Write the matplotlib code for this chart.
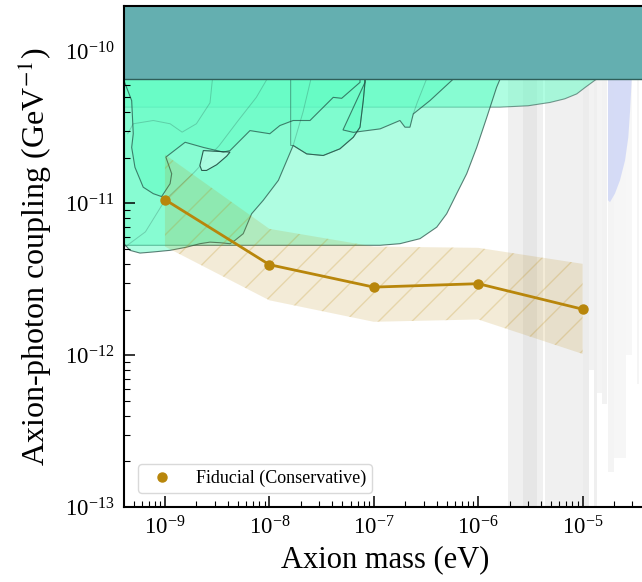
import numpy as np
import matplotlib
matplotlib.use("Agg")
import matplotlib.pyplot as plt
from matplotlib.ticker import LogLocator, NullFormatter
from matplotlib.lines import Line2D

plt.rcParams['font.family'] = 'serif'
plt.rcParams['font.serif'] = ['Liberation Serif', 'DejaVu Serif']
plt.rcParams['mathtext.fontset'] = 'stix'

# fiducial projection (eV, GeV^-1)
mass = [1e-9, 1e-8, 1e-7, 1e-6, 1e-5]
g_fid = [1.06e-11, 3.95e-12, 2.81e-12, 2.96e-12, 2.01e-12]
g_hi = [2.1e-11, 6.8e-12, 5.2e-12, 5.1e-12, 4.0e-12]
g_lo = [5.2e-12, 2.3e-12, 1.66e-12, 1.72e-12, 1.02e-12]

# helioscope limit
cast_g = 6.6e-11

# astrophysical bounds
regA_m = [4.05e-10, 4.05e-10, 1.15e-7, 1.78e-7, 2.77e-7, 4.01e-7, 4.99e-7, 6.22e-7,
          7.76e-7, 9.68e-7, 1.21e-6, 1.50e-6, 1.62e-6, 1.62e-6]
regA_g = [1e-10, 5.30e-12, 5.30e-12, 5.43e-12, 5.86e-12, 6.98e-12, 8.55e-12, 1.16e-11,
          1.57e-11, 2.34e-11, 3.70e-11, 5.82e-11, 6.6e-11, 1e-10]

regB_m = [4.05e-10, 4.05e-10, 1.62e-6, 3.0e-6, 4.88e-6, 6.74e-6, 8.79e-6, 1.06e-5, 1.36e-5, 1.36e-5]
regB_g = [1e-10, 4.31e-11, 4.31e-11, 4.4e-11, 4.63e-11, 4.89e-11, 5.27e-11, 5.82e-11, 6.6e-11, 1e-10]

regC1_m = [4.05e-10, 4.05e-10, 4.62e-10, 5.77e-10, 7.73e-10, 1.12e-9, 1.61e-9, 2.16e-9, 2.70e-9,
           3.37e-9, 4.20e-9, 4.68e-9, 5.62e-9, 6.76e-9, 8.75e-9, 1.22e-8, 1.46e-8, 1.69e-8,
           2.28e-8, 3.28e-8, 4.74e-8, 6.37e-8, 7.38e-8, 7.93e-8, 8.24e-8, 8.24e-8]
regC1_g = [1e-10, 5.43e-12, 4.91e-12, 4.71e-12, 4.79e-12, 4.91e-12, 5.15e-12, 5.43e-12, 5.56e-12,
           5.51e-12, 5.43e-12, 5.71e-12, 6.32e-12, 8.55e-12, 1.05e-11, 1.42e-11, 1.9e-11, 2.41e-11,
           2.12e-11, 2.07e-11, 2.29e-11, 2.73e-11, 3.18e-11, 4.76e-11, 6.28e-11, 1e-10]

regC2_m = [4.05e-10, 4.05e-10, 4.80e-10, 4.97e-10, 4.80e-10, 5.16e-10, 6.19e-10, 7.73e-10, 9.29e-10,
           1.12e-9, 1.16e-9, 1.02e-9, 1.56e-9, 2.33e-9, 3.61e-9, 4.20e-9, 6.52e-9, 1.01e-8,
           1.26e-8, 1.69e-8, 2.45e-8, 4.09e-8, 4.93e-8, 7.38e-8, 7.38e-8]
regC2_g = [1e-10, 6.44e-11, 4.76e-11, 2.88e-11, 2.34e-11, 1.73e-11, 1.28e-11, 1.16e-11, 1.11e-11,
           1.35e-11, 1.57e-11, 2.02e-11, 2.53e-11, 2.34e-11, 2.18e-11, 2.23e-11, 3.02e-11, 2.88e-11,
           3.26e-11, 3.52e-11, 3.52e-11, 5.00e-11, 4.93e-11, 6.28e-11, 1e-10]

regD_m = [5.07e-8, 6.37e-8, 1.15e-7, 1.78e-7, 1.99e-7, 2.22e-7, 2.39e-7, 3.45e-7, 5.77e-7,
          5.77e-7, 8.24e-8, 8.24e-8]
regD_g = [3.05e-11, 2.94e-11, 3.10e-11, 3.52e-11, 3.18e-11, 3.18e-11, 3.89e-11, 4.76e-11, 6.6e-11,
          1e-10, 1e-10, 6.28e-11]

regE_m = [1.60e-8, 1.60e-8, 1.69e-8, 2.28e-8, 3.28e-8, 4.74e-8, 6.37e-8, 7.38e-8, 7.93e-8, 8.24e-8, 8.24e-8]
regE_g = [1e-10, 2.41e-11, 2.41e-11, 2.12e-11, 2.07e-11, 2.29e-11, 2.73e-11, 3.18e-11, 4.76e-11, 6.28e-11, 1e-10]

hole_m = [2.33e-9, 2.16e-9, 2.25e-9, 2.5e-9, 3.13e-9, 3.9e-9, 4.2e-9]
hole_g = [2.23e-11, 1.78e-11, 1.65e-11, 1.65e-11, 1.8e-11, 2.05e-11, 2.18e-11]

faint1_m = [4.4e-10, 4.97e-10, 7.73e-10, 1.12e-9, 1.46e-9, 2.0e-9, 2.7e-9, 2.85e-9]
faint1_g = [2.88e-11, 3.35e-11, 3.52e-11, 3.35e-11, 2.95e-11, 3.35e-11, 4.6e-11, 6.6e-11]
faint2_m = [4.2e-10, 6.5e-10, 1.0e-9, 1.9e-9, 3.3e-9, 5.0e-9, 7.5e-9, 9.5e-9]
faint2_g = [5.2e-12, 6.5e-12, 1.05e-11, 1.6e-11, 2.4e-11, 3.5e-11, 5.0e-11, 6.6e-11]
faint3_m = [1.69e-8, 2.1e-8, 2.5e-8]
faint3_g = [2.41e-11, 4.0e-11, 6.6e-11]
faint4_m = [3.2e-7, 2.6e-7, 2.39e-7]
faint4_g = [6.6e-11, 4.6e-11, 3.89e-11]

# haloscopes
halo_m_lo = [1.94e-6, 4.36e-6, 2.67e-6, 1.01e-5, 1.15e-5, 1.29e-5, 1.36e-5, 1.52e-5, 1.75e-5,
             2.0e-5, 2.6e-5, 3.3e-5]
halo_m_hi = [4.15e-6, 1.01e-5, 3.63e-6, 1.15e-5, 1.29e-5, 1.36e-5, 1.52e-5, 1.70e-5, 2.0e-5,
             2.6e-5, 3.0e-5, 3.5e-5]
halo_g_lo = [1e-13, 1e-13, 1e-13, 1e-13, 8e-13, 1e-13, 5.6e-13, 4.8e-13, 1.7e-13,
             2.1e-13, 1e-12, 6.5e-13]
halo_shade = ['#f0f0f0', '#f0f0f0', '#e6e6e6', '#ececec', '#f2f2f2', '#efefef', '#f4f4f4',
              '#f2f2f2', '#f4f4f4', '#f6f6f6', '#f7f7f7', '#f5f5f5']

blue_m = [1.75e-5, 1.75e-5, 1.83e-5, 2.04e-5, 2.28e-5, 2.55e-5, 2.74e-5, 2.85e-5, 2.95e-5, 2.95e-5]
blue_g = [1e-10, 1.05e-11, 1.02e-11, 1.16e-11, 1.42e-11, 1.92e-11, 2.73e-11, 4.09e-11, 6.44e-11, 1e-10]

gold = '#b8860b'
green = '#60fcc4'
edge = '#1f4a40'

fig = plt.figure(figsize=(6.42, 5.82), dpi=100)
ax = fig.add_axes([0.1931, 0.1289, 0.8123, 0.8608])
ax.set_xscale('log')
ax.set_yscale('log')
ax.set_xlim(4.05e-10, 4.0e-5)
ax.set_ylim(1e-13, 2e-10)

for lo, hi, gl, c in zip(halo_m_lo, halo_m_hi, halo_g_lo, halo_shade):
    ax.fill_between([lo, hi], [gl, gl], [1e-10, 1e-10], color=c, lw=0, zorder=0.5)
ax.fill(blue_m, blue_g, color='#d0d7f6', alpha=0.85, lw=0, zorder=0.6)

# wide band drawn underneath so its edge shows faded where other bounds overlap
ax.fill(regB_m, regB_g, fc=green, alpha=0.5, ec='none', zorder=0.9)
ax.fill(regB_m, regB_g, fc='none', ec=edge, lw=0.8, alpha=0.55, zorder=0.95)
ax.fill(regA_m, regA_g, fc=green, alpha=0.5, ec='none', zorder=1)
ax.fill(regA_m, regA_g, fc='none', ec=edge, lw=0.8, alpha=0.7, zorder=1.05)
for m, g in [(regC1_m, regC1_g), (regC2_m, regC2_g), (regD_m, regD_g)]:
    ax.fill(m, g, fc=green, alpha=0.5, ec='none', zorder=1.1)
    ax.fill(m, g, fc='none', ec=edge, lw=0.8, alpha=0.7, zorder=1.15)
ax.fill(regE_m, regE_g, fc=green, alpha=0.2, ec='none', zorder=1.1)
ax.fill(regE_m, regE_g, fc='none', ec=edge, lw=0.7, alpha=0.5, zorder=1.15)
ax.fill(hole_m, hole_g, fc='#aefde2', ec=edge, lw=0.8, alpha=0.9, zorder=1.12)
for m, g in [(faint1_m, faint1_g), (faint2_m, faint2_g), (faint3_m, faint3_g), (faint4_m, faint4_g)]:
    ax.plot(m, g, color=edge, lw=0.7, alpha=0.25, zorder=1.1)

ax.fill_between([1e-11, 1e-3], [cast_g, cast_g], [1e-8, 1e-8], fc='#64afb0', ec='#2f5f5a',
                lw=1.0, zorder=2)

ax.fill_between(mass, g_lo, g_hi, facecolor=(0.72, 0.53, 0.04, 0.16),
                edgecolor=(0.72, 0.53, 0.04, 0.22), hatch='/', lw=0, zorder=3)
ax.plot(mass, g_fid, color=gold, lw=2, marker='o', ms=6.5, zorder=4)

handle = Line2D([], [], color=gold, marker='o', ms=6.5, ls='none')
leg = ax.legend([handle], ['Fiducial (Conservative)'], loc='lower left', fontsize=13,
                frameon=True, edgecolor='0.85', framealpha=1, borderaxespad=0.8,
                handletextpad=0.9, borderpad=0.3)
leg.set_zorder(6)

ax.set_xticks([1e-9, 1e-8, 1e-7, 1e-6, 1e-5])
ax.set_yticks([1e-13, 1e-12, 1e-11, 1e-10])
ax.xaxis.set_minor_locator(LogLocator(base=10, subs=np.arange(2, 10), numticks=20))
ax.yaxis.set_minor_locator(LogLocator(base=10, subs=np.arange(2, 10), numticks=20))
ax.xaxis.set_minor_formatter(NullFormatter())
ax.yaxis.set_minor_formatter(NullFormatter())
ax.tick_params(which='major', direction='in', length=8, width=1.1, labelsize=16.5, pad=7,
               top=False, right=False, zorder=7)
ax.tick_params(which='minor', direction='in', length=4, width=0.8, top=False, right=False)
for s in ax.spines.values():
    s.set_linewidth(1.5)
    s.set_zorder(8)

ax.set_xlabel('Axion mass (eV)', fontsize=22, labelpad=4)
ax.set_ylabel(r'Axion-photon coupling (GeV$^{-1}$)', fontsize=23, labelpad=8)

fig.savefig('out.png', dpi=100)
